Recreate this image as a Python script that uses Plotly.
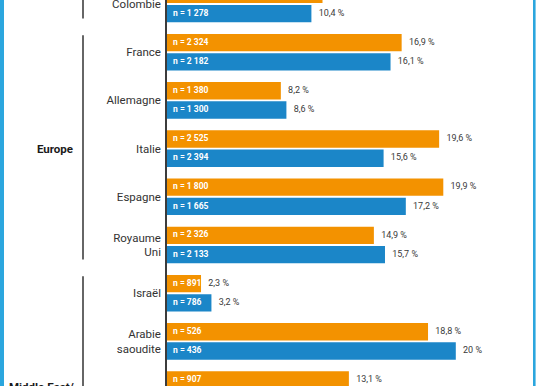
import plotly.graph_objects as go

# ---- data ----
countries = ["Colombie", "France", "Allemagne", "Italie", "Espagne",
             "Royaume<br>Uni", "Israël", "Arabie<br>saoudite", ""]
n_orange = ["", "2 324", "1 380", "2 525", "1 800", "2 326", "891", "526", "907"]
n_blue = ["1 278", "2 182", "1 300", "2 394", "1 665", "2 133", "786", "436", ""]
pct_orange = [11.2, 16.9, 8.2, 19.6, 19.9, 14.9, 2.45, 18.8, 13.1]
pct_blue = [10.4, 16.1, 8.6, 15.6, 17.2, 15.7, 3.2, 20.8, None]
pct_orange_labels = ["11,2 %", "16,9 %", "8,2 %", "19,6 %", "19,9 %", "14,9 %", "2,3 %", "18,8 %", "13,1 %"]
pct_blue_labels = ["10,4 %", "16,1 %", "8,6 %", "15,6 %", "17,2 %", "15,7 %", "3,2 %", "20 %", ""]
groups = [("", -1, 0), ("Europe", 1, 5), ("Middle East/<br>Africa", 6, 10)]

ORANGE = "#f39200"
BLUE = "#1b86c8"
FRAME = "#2ba6de"
FONT = "Roboto"

W, H = 536, 386
L, R = 167, 8
idx = list(range(len(countries)))

fig = go.Figure()
fig.add_trace(go.Bar(y=idx, x=pct_orange, orientation="h", marker_color=ORANGE,
                     marker_line_width=0, offset=-0.38, width=0.36, hoverinfo="skip"))
fig.add_trace(go.Bar(y=[i for i, v in zip(idx, pct_blue) if v is not None],
                     x=[v for v in pct_blue if v is not None], orientation="h",
                     marker_color=BLUE, marker_line_width=0, offset=0.02, width=0.36,
                     hoverinfo="skip"))

def text_trace(xs, ys, texts, size, color, msize, bold=False):
    return go.Scatter(
        x=xs, y=ys, mode="markers+text",
        text=[("<b>%s</b>" % t if bold else t) if t else "" for t in texts],
        textposition="middle right",
        marker=dict(size=msize, opacity=0),
        textfont=dict(family=FONT, size=size, color=color), hoverinfo="skip")

# n labels inside bars
fig.add_trace(text_trace([0] * len(idx), [i - 0.2 for i in idx],
                         ["n = %s" % t if t else "" for t in n_orange], 8.5, "white", 8, True))
fig.add_trace(text_trace([0] * len(idx), [i + 0.2 for i in idx],
                         ["n = %s" % t if t else "" for t in n_blue], 8.5, "white", 8, True))

# percentage labels
fig.add_trace(text_trace(pct_orange, [i - 0.2 for i in idx], pct_orange_labels, 9, "#3a3a3a", 10))
bi = [i for i, v in zip(idx, pct_blue) if v is not None]
fig.add_trace(text_trace([pct_blue[i] for i in bi], [i + 0.2 for i in bi],
                         [pct_blue_labels[i] for i in bi], 9, "#3a3a3a", 10))

plot_w = W - L - R
def px_to_paper(px):
    return (px - L) / plot_w

shapes = []
annotations = []
for name, a, b in groups:
    shapes.append(dict(type="line", xref="paper", yref="y",
                       x0=px_to_paper(83), x1=px_to_paper(83), y0=a - 0.35, y1=b + 0.3,
                       line=dict(color="#666666", width=2)))
    if name == "Europe":
        annotations.append(dict(xref="paper", yref="y", x=px_to_paper(75), y=(a + b) / 2,
                                text="<b>%s</b>" % name, showarrow=False, xanchor="right",
                                yanchor="middle", font=dict(family=FONT, size=11.5, color="#1a1a1a")))
    elif name:
        annotations.append(dict(xref="paper", yref="y", x=px_to_paper(77), y=a + 1.76,
                                text="<b>%s</b>" % name, showarrow=False, xanchor="right",
                                yanchor="top", align="right",
                                font=dict(family=FONT, size=11.5, color="#1a1a1a")))

# outer frame lines
shapes.append(dict(type="line", xref="paper", yref="paper", x0=px_to_paper(2), x1=px_to_paper(2),
                   y0=-0.1, y1=1.1, line=dict(color=FRAME, width=4)))
shapes.append(dict(type="line", xref="paper", yref="paper", x0=px_to_paper(534.3), x1=px_to_paper(534.3),
                   y0=-0.1, y1=1.1, line=dict(color=FRAME, width=2.6)))

row_px = 48.2
fig.update_layout(
    width=W, height=H, margin=dict(l=L, r=R, t=0, b=0, autoexpand=False),
    paper_bgcolor="white", plot_bgcolor="white",
    barmode="overlay", showlegend=False,
    shapes=shapes, annotations=annotations,
    xaxis=dict(range=[0, 26], visible=False, fixedrange=True, automargin=False),
    yaxis=dict(range=[(H - 4) / row_px, -4 / row_px], tickvals=idx, ticktext=countries,
               showgrid=False, zeroline=False, showline=True, linecolor="#3c3c3c", linewidth=1.5,
               ticks="", ticklabelstandoff=2, automargin=False, ticklabeloverflow="allow",
               tickfont=dict(family=FONT, size=11.5, color="#333333"), fixedrange=True),
)

fig.write_html("out.html", config={"displayModeBar": False},
               post_script="document.body.style.margin='0px';document.body.style.overflow='hidden';")
